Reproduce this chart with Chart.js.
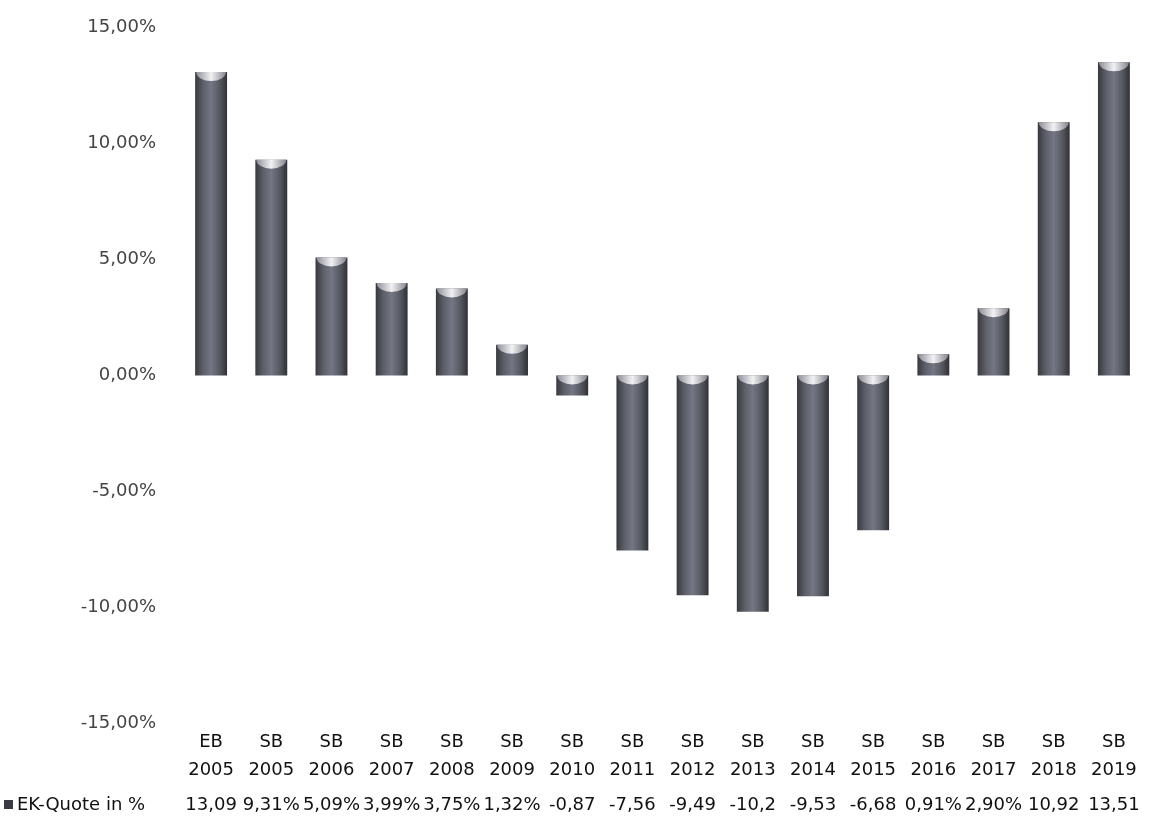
<!DOCTYPE html>
<html>
<head>
<meta charset="utf-8">
<script src="https://cdn.jsdelivr.net/npm/chart.js@4/dist/chart.umd.min.js"></script>
<style>
  html, body { margin: 0; padding: 0; background: #fff; }
  #wrap { width: 1152px; height: 821px; }
</style>
</head>
<body>
<div id="wrap"><canvas id="chart"></canvas></div>
<script>
// Daten
const kategorien = [
    ['EB', '2005'], ['SB', '2005'], ['SB', '2006'], ['SB', '2007'],
    ['SB', '2008'], ['SB', '2009'], ['SB', '2010'], ['SB', '2011'],
    ['SB', '2012'], ['SB', '2013'], ['SB', '2014'], ['SB', '2015'],
    ['SB', '2016'], ['SB', '2017'], ['SB', '2018'], ['SB', '2019']
];
const ekQuote = [13.09, 9.31, 5.09, 3.99, 3.75, 1.32, -0.87, -7.56, -9.49, -10.2, -9.53, -6.68, 0.91, 2.90, 10.92, 13.51];
const tabellenWerte = ['13,09', '9,31%', '5,09%', '3,99%', '3,75%', '1,32%', '-0,87', '-7,56', '-9,49', '-10,2', '-9,53', '-6,68', '0,91%', '2,90%', '10,92', '13,51'];
const reihenName = 'EK-Quote in %';

const schrift = '"DejaVu Sans", sans-serif';
const balkenAnteil = 0.53;

// Balkenfarbe: horizontaler Verlauf (Zylinder-Optik)
function balkenFarbe(ctx) {
    const chart = ctx.chart;
    const xs = chart.scales.x;
    if (!chart.chartArea || !xs || !xs.width) return '#5a5c64';
    const mitte = xs.getPixelForValue(ctx.dataIndex);
    const halb = (xs.width / kategorien.length) * balkenAnteil / 2;
    const g = chart.ctx.createLinearGradient(mitte - halb, 0, mitte + halb, 0);
    g.addColorStop(0, '#38393f');
    g.addColorStop(0.25, '#5d5f69');
    g.addColorStop(0.5, '#747684');
    g.addColorStop(0.78, '#55575f');
    g.addColorStop(1, '#303136');
    return g;
}

// Kappe oben auf jedem Balken + Tabellenzeile unten
const zylinderPlugin = {
    id: 'zylinder',
    afterDatasetsDraw(chart) {
        const c = chart.ctx;
        const meta = chart.getDatasetMeta(0);
        meta.data.forEach(el => {
            const top = Math.min(el.y, el.base);
            const rx = el.width / 2 - 1;
            const g = c.createLinearGradient(el.x - rx, 0, el.x + rx, 0);
            g.addColorStop(0, '#8e8f97');
            g.addColorStop(0.5, '#f2f2f5');
            g.addColorStop(1, '#84858c');
            c.save();
            c.beginPath();
            c.ellipse(el.x, top, rx, 9, 0, 0, Math.PI);
            c.fillStyle = g;
            c.fill();
            c.restore();
        });
    },
    afterDraw(chart) {
        const c = chart.ctx;
        const xs = chart.scales.x;
        const y = 805;
        c.save();
        c.font = '18px ' + schrift;
        c.fillStyle = '#111';
        c.textBaseline = 'middle';
        c.textAlign = 'center';
        tabellenWerte.forEach((t, i) => {
            c.fillText(t, xs.getPixelForValue(i), y);
        });
        // Legendenschluessel
        c.fillStyle = '#3a3b41';
        c.fillRect(4, y - 5, 9, 9);
        c.textAlign = 'left';
        c.fillStyle = '#111';
        c.fillText(reihenName, 17, y);
        c.restore();
    }
};

new Chart(document.getElementById('chart'), {
    type: 'bar',
    data: {
        labels: kategorien,
        datasets: [{
            label: reihenName,
            data: ekQuote,
            backgroundColor: balkenFarbe,
            borderWidth: 0,
            barPercentage: balkenAnteil,
            categoryPercentage: 1
        }]
    },
    options: {
        responsive: true,
        maintainAspectRatio: false,
        animation: false,
        layout: { padding: { top: 17, right: 8, bottom: 32, left: 0 } },
        plugins: {
            legend: { display: false },
            tooltip: { enabled: false }
        },
        scales: {
            x: {
                grid: { display: false, drawTicks: false },
                border: { display: false },
                ticks: {
                    color: '#111',
                    font: { family: schrift, size: 18, lineHeight: 1.556 },
                    padding: 5,
                    maxRotation: 0,
                    autoSkip: false
                }
            },
            y: {
                min: -15,
                max: 15,
                grid: { display: false },
                border: { display: false },
                afterFit(s) { s.width = 181; },
                ticks: {
                    stepSize: 5,
                    color: '#444',
                    padding: 17,
                    font: { family: schrift, size: 18 },
                    callback: v => v.toFixed(2).replace('.', ',') + '%'
                }
            }
        }
    },
    plugins: [zylinderPlugin]
});
</script>
</body>
</html>
